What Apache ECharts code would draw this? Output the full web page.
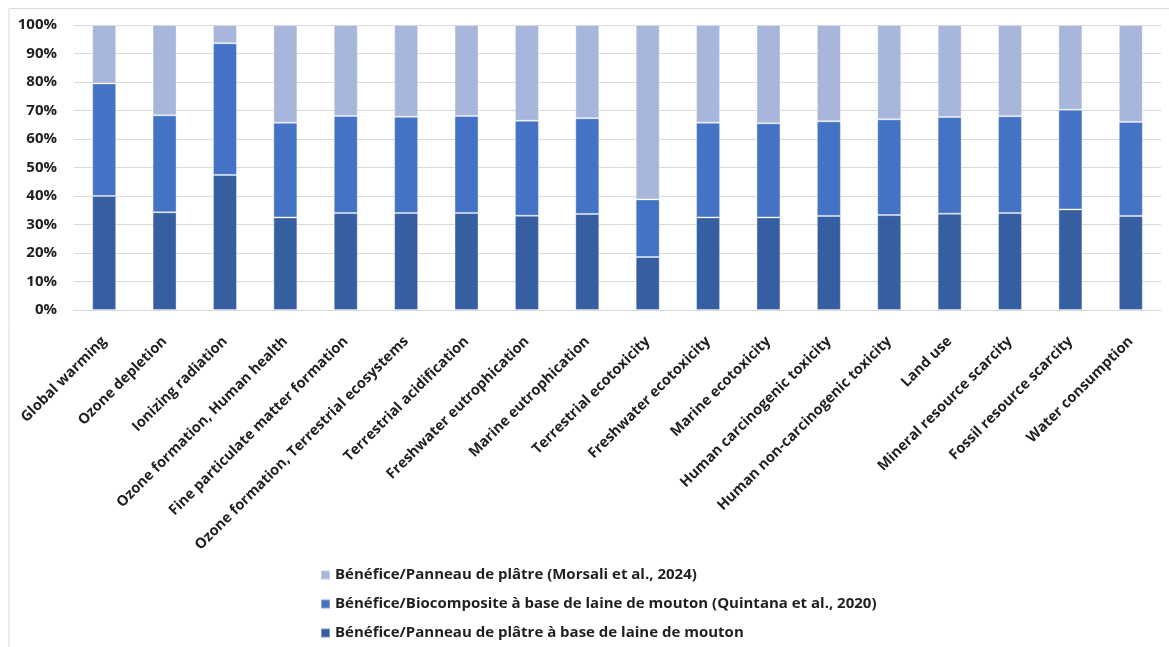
<!DOCTYPE html>
<html>
<head>
<meta charset="utf-8">
<script src="https://cdn.jsdelivr.net/npm/echarts@6/dist/echarts.min.js"></script>
<style>
  html, body { margin: 0; padding: 0; background: #fff; }
  #chart { width: 1169px; height: 647px; }
</style>
</head>
<body>
<div id="chart"></div>
<script>
// categories (impact indicators)
const categories = [
  'Global warming', 'Ozone depletion', 'Ionizing radiation',
  'Ozone formation, Human health', 'Fine particulate matter formation',
  'Ozone formation, Terrestrial ecosystems', 'Terrestrial acidification',
  'Freshwater eutrophication', 'Marine eutrophication', 'Terrestrial ecotoxicity',
  'Freshwater ecotoxicity', 'Marine ecotoxicity', 'Human carcinogenic toxicity',
  'Human non-carcinogenic toxicity', 'Land use', 'Mineral resource scarcity',
  'Fossil resource scarcity', 'Water consumption'
]

const seriesNames = [
  'Bénéfice/Panneau de plâtre à base de laine de mouton',
  'Bénéfice/Biocomposite à base de laine de mouton (Quintana et al., 2020)',
  'Bénéfice/Panneau de plâtre (Morsali et al., 2024)'
]

// shares in % (bottom -> top)
const laineMouton = [40.0, 34.3, 47.4, 32.5, 34.0, 34.0, 34.0, 33.1, 33.7, 18.6, 32.5, 32.5, 33.0, 33.3, 33.8, 34.0, 35.3, 33.0]
const quintana = [39.5, 34.0, 46.2, 33.2, 34.1, 33.8, 34.1, 33.3, 33.6, 20.2, 33.2, 33.0, 33.2, 33.6, 33.9, 34.0, 35.0, 33.0]
const morsali = [20.5, 31.7, 6.4, 34.3, 31.9, 32.2, 31.9, 33.6, 32.7, 61.2, 34.3, 34.5, 33.8, 33.1, 32.3, 32.0, 29.7, 34.0]

const yTicks = { min: 0, max: 100, interval: 10 }

const colors = ['#365FA2', '#4472C4', '#A8B6DB']
const font = '"Open Sans", "Liberation Sans", sans-serif'
const textColor = '#1f1f1f'

const chart = echarts.init(document.getElementById('chart'))

const mkSeries = (name, data, color) => ({
  name,
  type: 'bar',
  stack: 'total',
  data,
  barWidth: 24,
  itemStyle: {
    color,
    borderColor: 'rgba(255,255,255,0.35)',
    borderWidth: 1
  }
})

chart.setOption({
  animation: false,
  graphic: [{
    type: 'polyline',
    shape: { points: [[9, 647], [9, 8.5], [1169, 8.5]] },
    style: { stroke: '#d9d9d9', lineWidth: 1, fill: null },
    silent: true
  }],
  grid: {
    left: 74,
    right: 8,
    top: 25,
    bottom: 337
  },
  xAxis: {
    type: 'category',
    data: categories,
    axisTick: { show: false },
    axisLine: { lineStyle: { color: '#d9d9d9', width: 1 } },
    axisLabel: {
      interval: 0,
      rotate: 45,
      margin: 29,
      fontFamily: font,
      fontWeight: 'bold',
      fontSize: 14.5,
      color: textColor
    }
  },
  yAxis: {
    type: 'value',
    min: yTicks.min,
    max: yTicks.max,
    interval: yTicks.interval,
    axisLine: { show: false },
    axisTick: { show: false },
    splitLine: { lineStyle: { color: '#d9d9d9', width: 1 } },
    axisLabel: {
      formatter: '{value}%',
      margin: 17,
      fontFamily: font,
      fontWeight: 'bold',
      fontSize: 15,
      color: textColor
    }
  },
  legend: {
    orient: 'vertical',
    left: 315,
    top: 562,
    height: 200,
    itemWidth: 9,
    itemHeight: 9,
    itemGap: 13,
    icon: 'rect',
    data: [seriesNames[2], seriesNames[1], seriesNames[0]],
    textStyle: {
      fontFamily: font,
      fontWeight: 'bold',
      fontSize: 15,
      lineHeight: 16,
      color: textColor
    }
  },
  series: [
    mkSeries(seriesNames[0], laineMouton, colors[0]),
    mkSeries(seriesNames[1], quintana, colors[1]),
    mkSeries(seriesNames[2], morsali, colors[2])
  ]
})
</script>
</body>
</html>
